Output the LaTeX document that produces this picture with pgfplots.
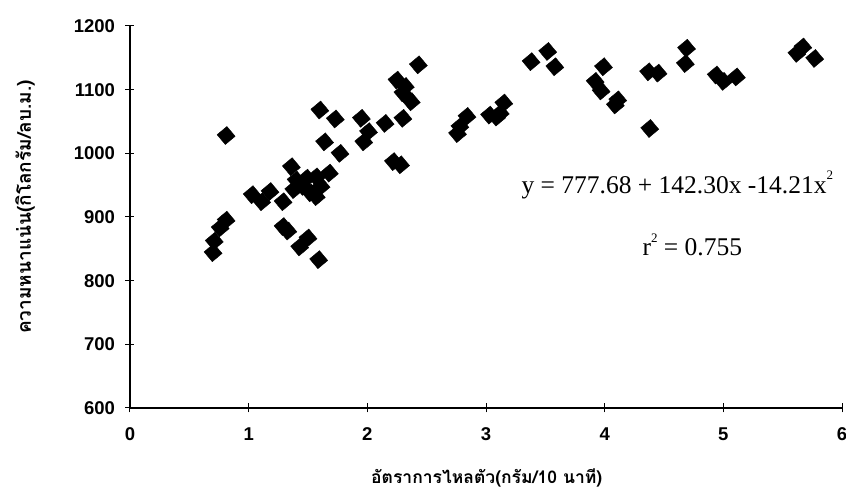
\documentclass[border=0pt]{standalone}
\usepackage{fontspec}
\setmainfont{Liberation Serif}
\newfontfamily\tickfont{Liberation Sans}
\newfontfamily\thaifont[Script=Thai]{Loma}
\usepackage{pgfplots}
\pgfplotsset{compat=1.18}

\pgfplotstableread{
x     y
0.70  844
0.71  862
0.76  883
0.81  895
0.81  1028
1.03  935
1.11  924
1.18  940
1.29  924
1.29  885
1.33  878
1.36  979
1.38  943
1.40  958
1.43  853
1.46  948
1.49  961
1.50  867
1.52  938
1.57  963
1.57  932
1.59  833
1.60  1068
1.61  948
1.64  1018
1.68  969
1.73  1054
1.77  1000
1.95  1055
1.97  1018
2.01  1034
2.15  1047
2.22  987
2.28  982
2.25  1115
2.30  1055
2.30  1095
2.32  1105
2.37  1081
2.43  1139
2.76  1031
2.78  1042
2.84  1058
3.03  1060
3.09  1057
3.12  1063
3.15  1079
3.38  1144
3.52  1160
3.58  1136
3.92  1113
3.97  1098
3.99  1136
4.09  1076
4.11  1084
4.38  1039
4.37  1128
4.45  1126
4.68  1141
4.69  1165
4.94  1123
5.00  1113
5.11  1120
5.62  1157
5.67  1167
5.77  1149
}\density

\begin{document}
\begin{tikzpicture}[x=1pt,y=1pt]
\useasboundingbox (-130,-87) rectangle (716,408);
\begin{axis}[
  at={(0,0)}, anchor=south west,
  width=712pt, height=382pt, scale only axis,
  xmin=0, xmax=6, ymin=600, ymax=1200,
  axis x line*=bottom, axis y line*=left,
  xtick={0,1,...,6}, ytick={600,700,...,1200},
  tick align=center, major tick length=9pt,
  tick style={black, line width=1pt},
  axis line style={black, line width=1.4pt},
  /pgf/number format/assume math mode=true,
  /pgf/number format/1000 sep={},
  ticklabel style={font=\tickfont\bfseries\fontsize{18.5}{18.5}\selectfont},
  xticklabel style={yshift=-12pt},
  yticklabel style={xshift=-7pt},
  xlabel={\thaifont\bfseries อัตราการไหลตัว(กรัม/10 นาที)},
  xlabel style={at={(axis description cs:0.501,-0.183)}, anchor=center, font=\fontsize{17.5}{17.5}\selectfont},
  ylabel={\thaifont\bfseries ความหนาแน่น(กิโลกรัม/ลบ.ม.)},
  ylabel style={at={(axis description cs:-0.1475,0.526)}, anchor=center, font=\fontsize{19}{19}\selectfont},
  clip=false,
]
\addplot[only marks, mark=square*, mark size=6.4pt, mark options={rotate=40, fill=black, draw=black}]
  table[x=x, y=y] {\density};
\node[anchor=west, font=\fontsize{25.5}{25.5}\selectfont] at (axis cs:3.27,950)
  {y = 777.68 + 142.30x -14.21x\raisebox{1.15ex}{\fontsize{13}{13}\selectfont 2}};
\node[anchor=west, font=\fontsize{25.5}{25.5}\selectfont] at (axis cs:4.29,856)
  {r\raisebox{1.15ex}{\fontsize{13}{13}\selectfont 2} = 0.755};
\end{axis}
\end{tikzpicture}
\end{document}
